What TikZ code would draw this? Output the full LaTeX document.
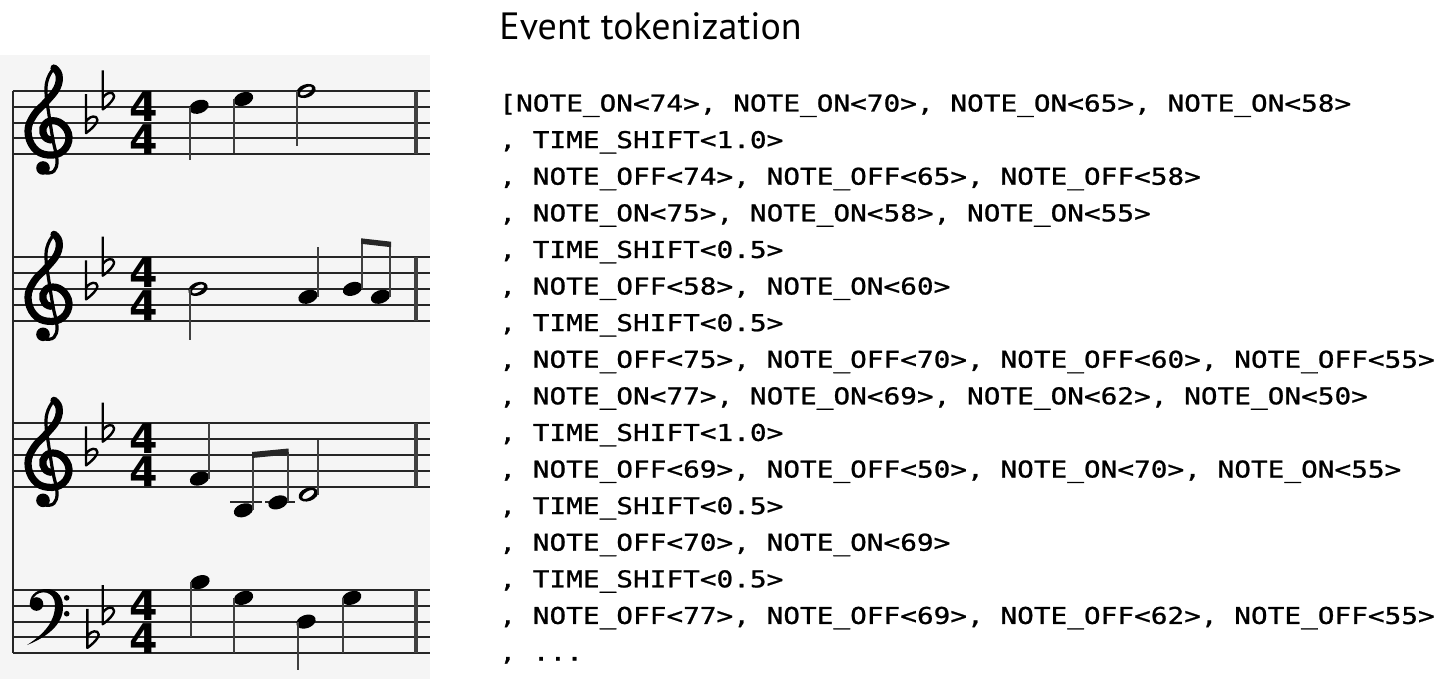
\documentclass[tikz,border=0pt]{standalone}
\usepackage{fontspec}
\newfontfamily\codefont{DejaVu Sans Mono}[FakeStretch=1.2, FakeBold=1]
\newfontfamily\titlefont{PT Sans}
\newfontfamily\digitfont{DejaVu Sans}
\frenchspacing

% note heads, #1 = x, #2 = y (pixels, y down)
\newcommand{\qhead}[2]{\fill[rotate around={20:(#1,#2)}] (#1,#2) ellipse (10 and 6.6);}
\newcommand{\hhead}[2]{\fill[even odd rule] [rotate around={20:(#1,#2)}] (#1,#2) ellipse (10 and 6.6) [rotate around={12:(#1,#2)}] (#1,#2) ellipse (6.8 and 3.2);}
\newcommand{\flatsign}[2]{\draw[flatline] (#1,#2-28.5) -- (#1,#2+10.5) .. controls (#1+9,#2+4) and (#1+14,#2-3) .. (#1+10,#2-5.5) .. controls (#1+6,#2-7.5) and (#1+2,#2-4) .. (#1,#2-1);}
\newcommand{\codedots}{...}

\tikzset{
  staffline/.style={line width=1pt, black!85},
  barline/.style={line width=2pt, black!75},
  stemline/.style={line width=1pt, black!75},
  flatline/.style={line width=1.2pt, line join=round},
  clefthin/.style={line width=1.6pt, line cap=round},
  clefthick/.style={line width=3.6pt, line cap=round},
  tsdigit/.style={anchor=base, inner sep=0, font=\digitfont\bfseries\fontsize{20.5}{20.5}\selectfont},
  codeline/.style={anchor=base west, inner sep=0, font=\codefont\fontsize{11.56}{12}\selectfont},
}

\begin{document}
\begin{tikzpicture}[x=0.5pt, y=-0.5pt]
    \useasboundingbox (0,0) rectangle (1438,679);

    % score panel
    \fill[black!4] (0,55) rectangle (430,679);
    \draw[staffline] (12.7,91) -- (12.7,653.2);

    % staves, bar lines and time signatures
    \foreach \t [count=\s] in {91,257.3,423.3,590} {
        \foreach \k in {0,1,2,3,4}
            \draw[staffline] (12.7,\t+15.8*\k) -- (430,\t+15.8*\k);
        \draw[barline] (415.5,\t) -- (415.5,\t+63.2);
        \node[tsdigit] (ts\s a) at (144,\t+30.6) {4};
        \node[tsdigit] (ts\s b) at (144,\t+63.2) {4};
    }

    % treble clefs and key signature
    \foreach \t in {91,257.3,423.3} {
        \begin{scope}[shift={(0,\t-91)}]
            \fill (43,168) circle (6.8);
            \draw[clefthin] plot[smooth, tension=0.7] coordinates {(54,68) (48,78) (46,92) (49,115) (53,140) (57,160) (54,171) (46,173)};
            \draw[clefthick] plot[smooth, tension=0.7] coordinates {(54,68) (59,75) (57,88) (46,102) (34,115) (28,131) (34,148) (48,155) (63,151) (69,137) (62,124) (50,121) (43,128) (45,137) (51,140)};
        \end{scope}
        \flatsign{86}{\t+31.6}
        \flatsign{102.7}{\t+7.9}
    }

    % bass clef and key signature
    \fill (36.5,604) circle (6.8);
    \fill (30,602) .. controls (31,586) and (62,582) .. (63,606) .. controls (64,625) and (45,638) .. (27,645) .. controls (44,634) and (55,622) .. (55,605) .. controls (55,591) and (40,589) .. (34,597) -- cycle;
    \fill (66.7,597.9) circle (2.8);
    \fill (66.7,613.7) circle (2.8);
    \flatsign{87.3}{637.4}
    \flatsign{102.7}{613.7}

    % staff 1
    \qhead{199}{106.8} \draw[stemline] (189.5,107) -- (189.5,160);
    \qhead{243.5}{99} \draw[stemline] (234,99) -- (234,153);
    \hhead{306}{91} \draw[stemline] (297,91) -- (297,146);

    % staff 2
    \hhead{198}{288.9} \draw[stemline] (189.5,289) -- (189.5,340);
    \qhead{308}{296.8} \draw[stemline] (317.7,296.8) -- (317.7,246.7);
    \qhead{352.5}{288.9} \draw[stemline] (362,288.9) -- (362,240);
    \qhead{380.5}{296.8} \draw[stemline] (390,296.8) -- (390,244);
    \fill[black!85] (361,238.3) -- (391,241.7) -- (391,247.2) -- (361,243.8) -- cycle;

    % staff 3
    \qhead{199.5}{478.6} \draw[stemline] (209,478.6) -- (209,423.3);
    \draw[staffline] (230,502.4) -- (262,502.4);
    \draw[staffline] (265,502.4) -- (295,502.4);
    \qhead{243.5}{510.3} \draw[stemline] (253,510.3) -- (253,455);
    \qhead{278}{502.4} \draw[stemline] (287.5,502.4) -- (287.5,452);
    \fill[black!85] (252,452) -- (288.5,448.5) -- (288.5,454.5) -- (252,458) -- cycle;
    \hhead{308.3}{494.5} \draw[stemline] (317.7,494.5) -- (317.7,440);

    % staff 4
    \qhead{200}{582.1} \draw[stemline] (190.5,582.1) -- (190.5,637);
    \qhead{243.5}{597.9} \draw[stemline] (234.3,597.9) -- (234.3,653);
    \qhead{306}{621.6} \draw[stemline] (298.3,621.6) -- (298.3,670);
    \qhead{351.7}{597.9} \draw[stemline] (343.3,597.9) -- (343.3,653);

    % tokens
    \node[anchor=base west, inner sep=0, font=\titlefont\fontsize{19}{19}\selectfont] (title) at (499,40) {Event tokenization};
    \foreach \txt [count=\i from 0] in {
        {[NOTE\_ON<74>, NOTE\_ON<70>, NOTE\_ON<65>, NOTE\_ON<58>},
        {, TIME\_SHIFT<1.0>},
        {, NOTE\_OFF<74>, NOTE\_OFF<65>, NOTE\_OFF<58>},
        {, NOTE\_ON<75>, NOTE\_ON<58>, NOTE\_ON<55>},
        {, TIME\_SHIFT<0.5>},
        {, NOTE\_OFF<58>, NOTE\_ON<60>},
        {, TIME\_SHIFT<0.5>},
        {, NOTE\_OFF<75>, NOTE\_OFF<70>, NOTE\_OFF<60>, NOTE\_OFF<55>},
        {, NOTE\_ON<77>, NOTE\_ON<69>, NOTE\_ON<62>, NOTE\_ON<50>},
        {, TIME\_SHIFT<1.0>},
        {, NOTE\_OFF<69>, NOTE\_OFF<50>, NOTE\_ON<70>, NOTE\_ON<55>},
        {, TIME\_SHIFT<0.5>},
        {, NOTE\_OFF<70>, NOTE\_ON<69>},
        {, TIME\_SHIFT<0.5>},
        {, NOTE\_OFF<77>, NOTE\_OFF<69>, NOTE\_OFF<62>, NOTE\_OFF<55>},
        {, \codedots}}
        \node[codeline] (line\i) at (499,111.5+36.6*\i) {\txt};
\end{tikzpicture}
\end{document}
